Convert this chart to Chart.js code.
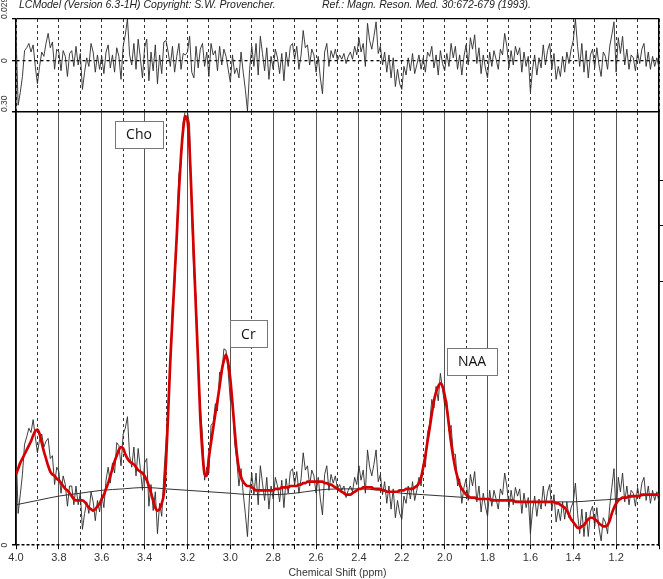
<!DOCTYPE html>
<html lang="en">
<head>
<meta charset="UTF-8">
<title>LCModel spectrum</title>
<script src="https://cdn.jsdelivr.net/npm/chart.js"></script>
<style>
  body { margin: 0; background: #fff; }
  #wrap { position: relative; width: 663px; height: 579px; overflow: hidden; }
  #wrap canvas { position: absolute; left: 0; top: 0; }
  .head { position: absolute; top: -2px; font: italic 10.5px "Liberation Sans", Arial, sans-serif; color: #222; white-space: nowrap; }
</style>
</head>
<body>
<div id="wrap">
  <canvas id="resid" width="663" height="579"></canvas>
  <canvas id="main" width="663" height="579"></canvas>
  <div class="head" style="left:19px">LCModel (Version 6.3-1H) Copyright: S.W. Provencher.</div>
  <div class="head" style="left:322px">Ref.: Magn. Reson. Med. 30:672-679 (1993).</div>
</div>
<script>
// chemical shift (ppm) of each sample
const ppm = [
  4.00,3.99,3.98,3.97,3.96,3.95,3.94,3.93,3.92,3.91,
  3.90,3.89,3.88,3.87,3.86,3.85,3.84,3.83,3.82,3.81,
  3.80,3.79,3.78,3.77,3.76,3.75,3.74,3.73,3.72,3.71,
  3.70,3.69,3.68,3.67,3.66,3.65,3.64,3.63,3.62,3.61,
  3.60,3.59,3.58,3.57,3.56,3.55,3.54,3.53,3.52,3.51,
  3.50,3.49,3.48,3.47,3.46,3.45,3.44,3.43,3.42,3.41,
  3.40,3.39,3.38,3.37,3.36,3.35,3.34,3.33,3.32,3.31,
  3.30,3.29,3.28,3.27,3.26,3.25,3.24,3.23,3.22,3.21,
  3.20,3.19,3.18,3.17,3.16,3.15,3.14,3.13,3.12,3.11,
  3.10,3.09,3.08,3.07,3.06,3.05,3.04,3.03,3.02,3.01,
  3.00,2.99,2.98,2.97,2.96,2.95,2.94,2.93,2.92,2.91,
  2.90,2.89,2.88,2.87,2.86,2.85,2.84,2.83,2.82,2.81,
  2.80,2.79,2.78,2.77,2.76,2.75,2.74,2.73,2.72,2.71,
  2.70,2.69,2.68,2.67,2.66,2.65,2.64,2.63,2.62,2.61,
  2.60,2.59,2.58,2.57,2.56,2.55,2.54,2.53,2.52,2.51,
  2.50,2.49,2.48,2.47,2.46,2.45,2.44,2.43,2.42,2.41,
  2.40,2.39,2.38,2.37,2.36,2.35,2.34,2.33,2.32,2.31,
  2.30,2.29,2.28,2.27,2.26,2.25,2.24,2.23,2.22,2.21,
  2.20,2.19,2.18,2.17,2.16,2.15,2.14,2.13,2.12,2.11,
  2.10,2.09,2.08,2.07,2.06,2.05,2.04,2.03,2.02,2.01,
  2.00,1.99,1.98,1.97,1.96,1.95,1.94,1.93,1.92,1.91,
  1.90,1.89,1.88,1.87,1.86,1.85,1.84,1.83,1.82,1.81,
  1.80,1.79,1.78,1.77,1.76,1.75,1.74,1.73,1.72,1.71,
  1.70,1.69,1.68,1.67,1.66,1.65,1.64,1.63,1.62,1.61,
  1.60,1.59,1.58,1.57,1.56,1.55,1.54,1.53,1.52,1.51,
  1.50,1.49,1.48,1.47,1.46,1.45,1.44,1.43,1.42,1.41,
  1.40,1.39,1.38,1.37,1.36,1.35,1.34,1.33,1.32,1.31,
  1.30,1.29,1.28,1.27,1.26,1.25,1.24,1.23,1.22,1.21,
  1.20,1.19,1.18,1.17,1.16,1.15,1.14,1.13,1.12,1.11,
  1.10,1.09,1.08,1.07,1.06,1.05,1.04,1.03,1.02,1.01,
  1.00
];

// measured spectrum (thin black)
const spectrum = [
  .068,.022,.035,.049,.070,.075,.081,.078,.087,.075,
  .064,.073,.077,.068,.072,.074,.060,.062,.042,.054,
  .051,.036,.048,.042,.027,.041,.041,.028,.041,.028,
  .036,.011,.022,.030,.022,.037,.030,.017,.031,.023,
  .035,.026,.045,.054,.043,.057,.050,.071,.069,.055,
  .077,.081,.089,.062,.054,.068,.048,.067,.053,.038,
  .057,.060,.027,.042,.024,.037,.008,.029,.020,.049,
  .072,.098,.124,.167,.178,.217,.257,.264,.293,.301,
  .300,.291,.229,.187,.172,.121,.096,.076,.045,.054,
  .050,.083,.085,.098,.093,.120,.118,.136,.135,.120,
  .100,.102,.071,.059,.041,.053,.036,.022,.006,.035,
  .050,.035,.050,.028,.055,.043,.031,.047,.025,.041,
  .032,.047,.041,.030,.045,.026,.046,.036,.051,.053,
  .042,.051,.036,.046,.064,.052,.055,.041,.052,.048,
  .036,.047,.032,.021,.049,.055,.038,.049,.043,.048,
  .039,.042,.038,.041,.033,.038,.041,.037,.047,.042,
  .055,.045,.052,.036,.066,.054,.048,.056,.066,.044,
  .049,.035,.044,.029,.041,.025,.039,.019,.031,.022,
  .018,.034,.029,.041,.032,.044,.031,.038,.047,.041,
  .056,.054,.078,.084,.101,.095,.110,.100,.119,.108,
  .097,.100,.079,.083,.063,.063,.041,.046,.029,.040,
  .046,.031,.049,.041,.051,.030,.041,.023,.036,.027,
  .020,.038,.027,.038,.032,.025,.039,.035,.050,.041,
  .026,.038,.028,.040,.034,.039,.022,.036,.026,.033,
  .008,.024,.034,.020,.032,.025,.041,.027,.037,.042,
  .024,.035,.016,.025,.017,.030,.018,.030,.019,.026,
  .030,.043,.022,.008,.025,.006,.023,.006,.023,.027,
  .013,.026,.012,.003,.019,.016,.008,.027,.040,.053,
  .021,.047,.037,.050,.030,.041,.028,.038,.036,.027,
  .040,.032,.043,.047,.031,.041,.029,.038,.031,.037,
  .030
];

// LCModel fit (red)
const fit = [
  .049,.053,.057,.060,.063,.066,.069,.072,.076,.079,
  .080,.077,.071,.065,.060,.055,.051,.049,.048,.046,
  .045,.043,.041,.039,.038,.036,.034,.032,.031,.031,
  .031,.031,.030,.028,.026,.025,.024,.025,.027,.029,
  .032,.035,.039,.043,.048,.053,.058,.062,.066,.068,
  .067,.063,.060,.058,.057,.056,.054,.052,.051,.050,
  .048,.045,.041,.036,.031,.026,.024,.025,.029,.036,
  .058,.092,.128,.157,.186,.214,.245,.270,.288,.297,
  .294,.274,.237,.199,.162,.126,.088,.064,.049,.048,
  .061,.071,.081,.091,.100,.110,.121,.128,.132,.126,
  .115,.098,.080,.064,.053,.047,.044,.042,.041,.041,
  .040,.039,.038,.038,.038,.038,.038,.038,.038,.038,
  .038,.039,.039,.039,.040,.040,.040,.040,.041,.041,
  .041,.041,.042,.042,.043,.043,.044,.044,.044,.044,
  .044,.044,.044,.044,.043,.043,.042,.042,.041,.040,
  .039,.038,.037,.036,.035,.035,.035,.036,.037,.038,
  .039,.039,.040,.040,.040,.040,.040,.039,.039,.039,
  .039,.038,.038,.037,.037,.037,.037,.037,.037,.038,
  .038,.038,.039,.039,.039,.039,.040,.041,.043,.047,
  .054,.062,.072,.081,.091,.100,.106,.110,.112,.110,
  .104,.095,.083,.071,.061,.053,.047,.042,.039,.037,
  .035,.034,.033,.033,.033,.032,.032,.032,.032,.032,
  .032,.032,.031,.031,.031,.031,.031,.031,.031,.031,
  .031,.031,.031,.030,.030,.030,.030,.030,.030,.030,
  .030,.030,.030,.030,.030,.030,.030,.030,.030,.030,
  .030,.030,.029,.029,.028,.027,.026,.024,.021,.018,
  .016,.014,.012,.012,.013,.014,.016,.018,.019,.019,
  .018,.017,.015,.014,.013,.013,.014,.017,.022,.026,
  .029,.031,.032,.033,.033,.033,.034,.034,.034,.034,
  .034,.034,.035,.035,.035,.035,.035,.035,.035,.035,
  .035
];

// residual, data minus fit (top panel)
const residual = [
  .019,-.031,-.022,-.011,.007,.009,.012,.006,.011,-.004,
  -.016,-.004,.006,.003,.012,.019,.009,.013,-.006,.008,
  .006,-.007,.007,.003,-.011,.005,.007,-.004,.010,-.003,
  .005,-.020,-.008,.002,-.004,.012,.006,-.008,.004,-.006,
  .003,-.009,.006,.011,-.005,.004,-.008,.009,.003,-.013,
  .010,.018,.029,.004,-.003,.012,-.006,.015,.002,-.012,
  .009,.015,-.014,.006,-.007,.011,-.016,.004,-.009,.013,
  .014,.006,-.004,.010,-.008,.003,.012,-.006,.005,.004,
  .006,.017,-.008,-.012,.010,-.005,.008,.012,-.004,.006,
  -.011,.012,.004,.007,-.007,.010,-.003,.008,.003,-.006,
  -.015,.004,-.009,-.005,-.012,.006,-.008,-.020,-.035,-.006,
  .010,-.004,.012,-.010,.017,.005,-.007,.009,-.013,.003,
  -.006,.008,.002,-.009,.005,-.014,.006,-.004,.010,.012,
  .001,.010,-.006,.004,.021,.009,.011,-.003,.008,.004,
  -.008,.003,-.012,-.023,.006,.012,-.004,.007,.002,.008,
  .000,.004,.001,.005,-.002,.003,.006,.001,.010,.004,
  .016,.006,.012,-.004,.026,.014,.008,.017,.027,.005,
  .010,-.003,.006,-.008,.004,-.012,.002,-.018,-.006,-.016,
  -.020,-.004,-.010,.002,-.007,.005,-.009,-.003,.004,-.006,
  .002,-.008,.006,.003,.010,-.005,.004,-.010,.007,-.002,
  -.007,.005,-.004,.012,.002,.010,-.006,.004,-.010,.003,
  .011,-.003,.016,.008,.018,-.002,.009,-.009,.004,-.005,
  -.012,.006,-.004,.007,.001,-.006,.008,.004,.019,.010,
  -.005,.007,-.003,.010,.004,.009,-.008,.006,-.004,.003,
  -.022,-.006,.004,-.010,.002,-.005,.011,-.003,.007,.012,
  -.006,.005,-.013,-.004,-.011,.003,-.008,.006,-.002,.008,
  .014,.029,.010,-.004,.012,-.008,.007,-.012,.004,.008,
  -.005,.009,-.003,-.011,.006,.003,-.006,.010,.018,.027,
  -.008,.016,.005,.017,-.003,.008,-.006,.004,.002,-.007,
  .006,-.002,.008,.012,-.004,.006,-.006,.003,-.004,.002,
  -.005
];

// baseline (thin smooth black)
const baselinePpm = [4.0,3.9,3.8,3.7,3.6,3.5,3.4,3.3,3.2,3.1,3.0,2.9,2.8,2.7,2.6,2.5,2.4,2.3,2.2,2.1,2.0,1.9,1.8,1.7,1.6,1.5,1.4,1.3,1.2,1.1,1.0];
const baseline    = [.028,.031,.034,.036,.038,.039,.040,.039,.038,.037,.036,.035,.035,.036,.038,.039,.039,.038,.036,.035,.034,.033,.032,.031,.030,.030,.030,.031,.032,.034,.035];

const xTickLabels = ['4.0','3.8','3.6','3.4','3.2','3.0','2.8','2.6','2.4','2.2','2.0','1.8','1.6','1.4','1.2'];
const residTickValues = [0.029, 0];
const residTickLabels = ['0.029', '0'];
const mainTickValues = [0.30, 0];
const mainTickLabels = ['0.30', '0'];
const rightTickValues = [0.2525, 0.2216, 0.1823];

const noteText  = ['Cho', 'Cr', 'NAA'];
const notePpm   = [3.426, 2.916, 1.872];
const noteValue = [0.2845, 0.1465, 0.1275];

const FONT = '"Liberation Sans", Arial, sans-serif';
const isEven = v => Math.round(v * 10) % 2 === 0;
const pts = (xs, ys) => xs.map((p, i) => ({ x: p, y: ys[i] }));

// rotated labels on the left side
const sideLabels = (values, labels) => ({
  id: 'sideLabels',
  afterDraw(chart) {
    const ctx = chart.ctx, s = chart.scales.y;
    ctx.save();
    ctx.fillStyle = '#333';
    ctx.font = '8.5px ' + FONT;
    ctx.textBaseline = 'middle';
    values.forEach((v, i) => {
      ctx.save();
      ctx.translate(5, s.getPixelForValue(v));
      ctx.rotate(-Math.PI / 2);
      ctx.textAlign = v === 0 ? 'center' : 'left';
      ctx.fillText(labels[i], 0, 0);
      ctx.restore();
    });
    ctx.restore();
  }
});

// boxed metabolite names
const notes = {
  id: 'notes',
  afterDatasetsDraw(chart) {
    const { ctx, scales: { x, y } } = chart;
    ctx.save();
    ctx.font = '14px "Open Sans", sans-serif';
    noteText.forEach((t, i) => {
      const cx = x.getPixelForValue(notePpm[i]);
      const cy = y.getPixelForValue(noteValue[i]);
      const w = Math.round(ctx.measureText(t).width + 22), h = 27;
      const l = Math.round(cx - w / 2) + 0.5, tp = Math.round(cy - h / 2) + 0.5;
      ctx.fillStyle = '#fff';
      ctx.fillRect(l, tp, w, h);
      ctx.strokeStyle = '#777';
      ctx.lineWidth = 1;
      ctx.strokeRect(l, tp, w, h);
      ctx.fillStyle = '#111';
      ctx.textAlign = 'center';
      ctx.textBaseline = 'middle';
      ctx.fillText(t, cx, cy + 1);
    });
    ctx.restore();
  }
};

// top panel: residual
new Chart(document.getElementById('resid'), {
  type: 'line',
  data: { datasets: [{
    data: pts(ppm, residual), borderColor: '#2b2b2b', borderWidth: 0.9,
    pointRadius: 0, tension: 0
  }]},
  options: {
    responsive: false, animation: false, events: [],
    layout: { padding: { left: 12, right: 4, top: 19, bottom: 467 } },
    plugins: { legend: { display: false }, tooltip: { enabled: false } },
    scales: {
      x: {
        type: 'linear', reverse: true, min: 1, max: 4,
        ticks: { display: false, stepSize: 0.1, autoSkip: false },
        grid: { color: '#333', lineWidth: 1, drawTicks: false },
        border: { display: false, dash: [3, 3] }
      },
      y: {
        min: -0.0357, max: 0.029,
        afterBuildTicks: s => { s.ticks = residTickValues.map(v => ({ value: v })); },
        ticks: { display: false },
        grid: { color: '#000', lineWidth: 1.3, tickLength: 4, tickColor: '#000' },
        border: { color: '#000', width: 1.5, dash: c => (c.tick && c.tick.value === 0) ? [3, 3] : [] }
      },
      y2: {
        position: 'right', min: -0.0357, max: 0.029,
        ticks: { display: false },
        grid: { drawOnChartArea: false, drawTicks: false },
        border: { color: '#000', width: 1.5 }
      }
    }
  },
  plugins: [sideLabels(residTickValues, residTickLabels)]
});

// main panel: spectrum, fit, baseline
new Chart(document.getElementById('main'), {
  type: 'line',
  data: { datasets: [
    { label: 'fit', data: pts(ppm, fit), borderColor: '#d40000', borderWidth: 2.7,
      pointRadius: 0, cubicInterpolationMode: 'monotone', order: 0 },
    { label: 'data', data: pts(ppm, spectrum), borderColor: '#2b2b2b', borderWidth: 0.9,
      pointRadius: 0, tension: 0, order: 1 },
    { label: 'baseline', data: pts(baselinePpm, baseline), borderColor: '#333', borderWidth: 1,
      pointRadius: 0, cubicInterpolationMode: 'monotone', order: 2 }
  ]},
  options: {
    responsive: false, animation: false, events: [],
    layout: { padding: { left: 12, right: 0, top: 112, bottom: 0 } },
    plugins: { legend: { display: false }, tooltip: { enabled: false } },
    scales: {
      x: {
        type: 'linear', reverse: true, min: 1, max: 4,
        ticks: {
          stepSize: 0.1, autoSkip: false, maxRotation: 0, padding: 2, color: '#333',
          font: { size: 11, family: FONT },
          callback: v => { const s = v.toFixed(1); return xTickLabels.includes(s) ? s : ''; }
        },
        grid: {
          color: c => (c.tick && isEven(c.tick.value)) ? '#555' : '#333',
          lineWidth: 1, tickLength: 4, tickColor: '#000', tickWidth: 1
        },
        border: { display: false, dash: c => (c.tick && !isEven(c.tick.value)) ? [3, 3] : [] },
        title: { display: true, text: 'Chemical Shift (ppm)', color: '#333',
                 font: { size: 10.5, family: FONT }, padding: { top: 0, bottom: 0 } }
      },
      y: {
        min: 0, max: 0.30,
        afterBuildTicks: s => { s.ticks = mainTickValues.map(v => ({ value: v })); },
        ticks: { display: false },
        grid: { color: '#000', lineWidth: 1.5, tickLength: 4, tickColor: '#000' },
        border: { color: '#000', width: 1.5, dash: c => (c.tick && c.tick.value === 0) ? [3, 2] : [] }
      },
      y2: {
        position: 'right', min: 0, max: 0.30,
        afterBuildTicks: s => { s.ticks = rightTickValues.map(v => ({ value: v })); },
        ticks: { display: false },
        grid: { drawOnChartArea: false, tickLength: 4, tickColor: '#000' },
        border: { color: '#000', width: 1.5 }
      }
    }
  },
  plugins: [notes, sideLabels(mainTickValues, mainTickLabels)]
});
</script>
</body>
</html>
